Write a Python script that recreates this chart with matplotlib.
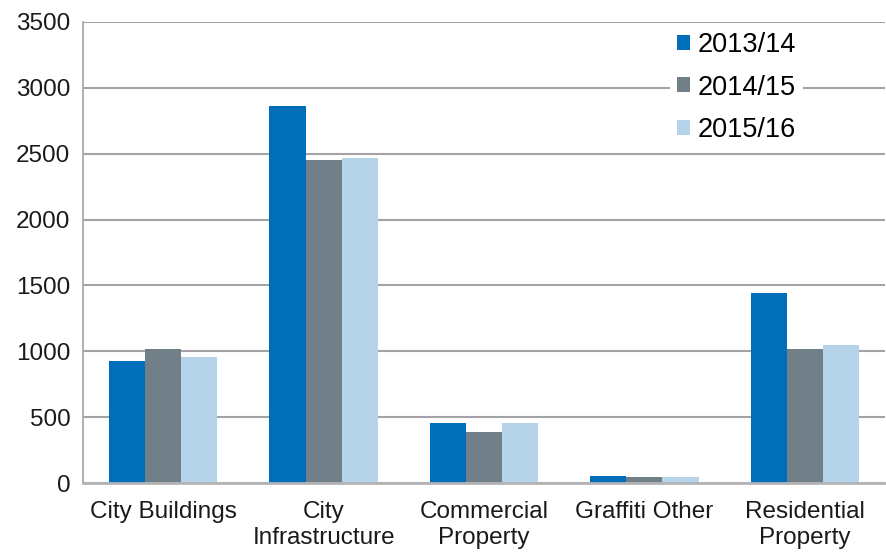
import matplotlib
matplotlib.use("Agg")
import matplotlib.pyplot as plt
import numpy as np

categories = ["City Buildings", "City\nInfrastructure", "Commercial\nProperty",
              "Graffiti Other", "Residential\nProperty"]
series_names = ["2013/14", "2014/15", "2015/16"]
v_2013 = [930, 2860, 455, 55, 1440]
v_2014 = [1020, 2450, 390, 45, 1020]
v_2015 = [960, 2465, 455, 45, 1050]
yticks = [0, 500, 1000, 1500, 2000, 2500, 3000, 3500]

colors = ["#006EB8", "#717F89", "#B5D4EA"]

plt.rcParams['font.family'] = ['Liberation Sans', 'DejaVu Sans']

fig = plt.figure(figsize=(8.87, 5.52), dpi=100)
ax = fig.add_axes([83/887, 1 - 483/552, (885-83)/887, (483-22)/552])

x = np.arange(len(categories))
w = 0.225
for i, (vals, c, name) in enumerate(zip([v_2013, v_2014, v_2015], colors, series_names)):
    ax.bar(x + (i - 1) * w, vals, width=w, color=c, label=name, zorder=3)

ax.set_xlim(-0.5, 4.5)
ax.set_ylim(0, 3500)
ax.set_yticks(yticks)
ax.set_yticklabels([str(t) for t in yticks], fontsize=17.5, color='#1a1a1a')
ax.set_xticks(x)
ax.set_xticklabels(categories, fontsize=17.5, color='#1a1a1a', linespacing=1.25)
ax.tick_params(axis='x', length=0, pad=13)
ax.tick_params(axis='y', length=0, pad=9)

ax.yaxis.grid(True, color='#A3A3A6', linewidth=1.5, zorder=0)
ax.set_axisbelow(True)
for s in ['top', 'right']:
    ax.spines[s].set_visible(False)
ax.spines['left'].set_color('#A3A3A6')
ax.spines['left'].set_linewidth(1.2)
ax.spines['bottom'].set_color('#B4B4B6')
ax.spines['bottom'].set_linewidth(2)
ax.spines['bottom'].set_zorder(4)

leg = ax.legend(loc='upper left', bbox_to_anchor=((670-83)/802, 1 - 3/461),
                fontsize=19.5, frameon=True, facecolor='white', edgecolor='none',
                framealpha=1, handlelength=0.48, handleheight=0.48,
                handletextpad=0.3, labelspacing=0.62, borderpad=0.25,
                borderaxespad=0)
leg.set_zorder(5)

fig.savefig("out.png", dpi=100)
